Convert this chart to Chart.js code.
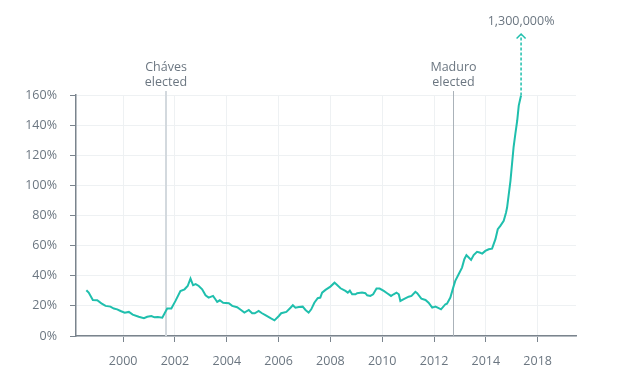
<!DOCTYPE html>
<html>
<head>
<meta charset="utf-8">
<script src="https://cdn.jsdelivr.net/npm/chart.js@4/dist/chart.umd.min.js"></script>
<style>
  html, body { margin: 0; padding: 0; background: #fff; }
  #wrap { width: 627px; height: 376px; }
</style>
</head>
<body>
<div id="wrap"><canvas id="inflationChart" width="627" height="376"></canvas></div>
<script>
// --- data ---
const years = [
  1998.58, 1998.67, 1998.83, 1999.00, 1999.16, 1999.32, 1999.51, 1999.64, 1999.77, 1999.90,
  2000.06, 2000.22, 2000.37, 2000.60, 2000.80, 2000.93, 2001.09, 2001.21, 2001.34, 2001.51,
  2001.70, 2001.86, 2002.02, 2002.21, 2002.37, 2002.49, 2002.60, 2002.70, 2002.80, 2002.92,
  2003.05, 2003.18, 2003.30, 2003.47, 2003.56, 2003.63, 2003.73, 2003.86, 2004.08, 2004.21,
  2004.40, 2004.55, 2004.68, 2004.85, 2004.98, 2005.08, 2005.23, 2005.36, 2005.49, 2005.69,
  2005.84, 2006.01, 2006.10, 2006.30, 2006.46, 2006.55, 2006.65, 2006.78, 2006.93, 2007.04,
  2007.16, 2007.26, 2007.38, 2007.51, 2007.61, 2007.68, 2007.81, 2008.00, 2008.16, 2008.23,
  2008.39, 2008.58, 2008.67, 2008.75, 2008.84, 2008.97, 2009.03, 2009.22, 2009.35, 2009.42,
  2009.54, 2009.65, 2009.78, 2009.90, 2010.06, 2010.19, 2010.34, 2010.44, 2010.55, 2010.64,
  2010.70, 2010.87, 2011.02, 2011.13, 2011.28, 2011.35, 2011.51, 2011.67, 2011.79, 2011.93,
  2012.05, 2012.14, 2012.27, 2012.44, 2012.50, 2012.63, 2012.74, 2012.82, 2012.95, 2013.08,
  2013.17, 2013.25, 2013.34, 2013.43, 2013.53, 2013.66, 2013.76, 2013.86, 2013.98, 2014.11,
  2014.24, 2014.37, 2014.46, 2014.56, 2014.69, 2014.78, 2014.82, 2014.95, 2015.07, 2015.14,
  2015.21, 2015.27, 2015.34, 2015.36
];
const inflation = [
  30.4, 28.8, 23.9, 23.7, 21.7, 20.0, 19.5, 18.2, 17.7, 16.6,
  15.5, 16.0, 14.2, 12.8, 11.8, 12.8, 13.3, 12.4, 12.6, 12.2,
  18.2, 18.2, 23.3, 29.9, 31.0, 33.2, 38.1, 33.7, 34.4, 33.2,
  31.0, 27.0, 25.5, 26.6, 24.4, 22.6, 23.7, 22.1, 21.7, 20.0,
  19.1, 17.3, 15.5, 17.3, 15.1, 15.1, 16.6, 15.1, 13.8, 11.8,
  10.4, 13.3, 15.1, 16.0, 18.8, 20.4, 18.8, 19.3, 19.5, 17.3,
  15.5, 17.7, 22.1, 25.1, 25.5, 28.8, 30.6, 32.8, 35.4, 34.4,
  31.7, 29.9, 28.8, 30.1, 27.7, 27.7, 28.4, 28.8, 28.4, 27.0,
  26.6, 27.7, 31.5, 31.5, 29.9, 28.4, 26.6, 27.7, 28.8, 27.7,
  23.3, 24.8, 26.1, 26.6, 29.3, 28.4, 24.8, 23.9, 22.1, 18.8,
  19.5, 18.8, 17.7, 21.1, 21.5, 25.5, 32.1, 36.6, 41.0, 45.4,
  51.0, 53.7, 52.1, 50.5, 53.7, 55.9, 55.4, 54.7, 56.5, 57.6,
  58.0, 64.3, 70.9, 73.1, 76.5, 82.0, 85.3, 103.0, 125.2, 134.3,
  142.9, 153.0, 158.4, 159.6
];

const tickYears = [2000, 2002, 2004, 2006, 2008, 2010, 2012, 2014, 2016];
const tickLabels = ['2000', '2002', '2004', '2006', '2008', '2010', '2012', '2014', '2018'];

const events = [
  { x: 2001.67, lines: ['Cháves', 'elected'], color: '#d3d9de', width: 2 },
  { x: 2012.72, lines: ['Maduro', 'elected'], color: '#aab2b9', width: 1 }
];

const arrowTopValue = 200.5;
const arrowLabel = '1,300,000%';

const TEAL = '#1fbfad';
const TEXT = '#6b7681';
const FONT = "'Open Sans', sans-serif";

// --- plugin: event lines + labels, and the off-chart arrow ---
const annotations = {
  id: 'annotations',
  beforeDatasetsDraw(chart) {
    const { ctx, chartArea, scales } = chart;
    ctx.save();
    events.forEach(ev => {
      const px = Math.round(scales.x.getPixelForValue(ev.x)) + (ev.width === 1 ? 0.5 : 0);
      ctx.strokeStyle = ev.color;
      ctx.lineWidth = ev.width;
      ctx.beginPath();
      ctx.moveTo(px, chartArea.top - 4);
      ctx.lineTo(px, chartArea.bottom);
      ctx.stroke();
      ctx.fillStyle = TEXT;
      ctx.font = '12.5px ' + FONT;
      ctx.textAlign = 'center';
      ctx.textBaseline = 'middle';
      ctx.fillText(ev.lines[0], px, chartArea.top - 28);
      ctx.fillText(ev.lines[1], px, chartArea.top - 13);
    });
    ctx.restore();
  },
  afterDatasetsDraw(chart) {
    const { ctx, scales } = chart;
    const lastX = years[years.length - 1];
    const lastY = inflation[inflation.length - 1];
    const px = scales.x.getPixelForValue(lastX);
    const y0 = scales.y.getPixelForValue(lastY);
    const y1 = scales.y.getPixelForValue(arrowTopValue);
    ctx.save();
    ctx.strokeStyle = TEAL;
    ctx.lineWidth = 1.5;
    ctx.setLineDash([3, 2]);
    ctx.beginPath();
    ctx.moveTo(px, y0);
    ctx.lineTo(px, y1 + 1);
    ctx.stroke();
    ctx.setLineDash([]);
    ctx.beginPath();
    ctx.moveTo(px - 4.5, y1 + 4.5);
    ctx.lineTo(px, y1);
    ctx.lineTo(px + 4.5, y1 + 4.5);
    ctx.stroke();
    ctx.fillStyle = TEXT;
    ctx.font = '12.5px ' + FONT;
    ctx.textAlign = 'center';
    ctx.textBaseline = 'middle';
    ctx.fillText(arrowLabel, px, y1 - 13);
    ctx.restore();
  }
};

const points = years.map((x, i) => ({ x: x, y: inflation[i] }));

new Chart(document.getElementById('inflationChart'), {
  type: 'line',
  data: {
    datasets: [{
      label: 'Inflation',
      data: points,
      borderColor: TEAL,
      backgroundColor: 'transparent',
      borderWidth: 2,
      pointRadius: 0,
      tension: 0
    }]
  },
  options: {
    responsive: false,
    animation: false,
    layout: { padding: { top: 95, right: 51, left: 0, bottom: 0 } },
    plugins: {
      legend: { display: false },
      tooltip: { enabled: false }
    },
    scales: {
      x: {
        type: 'linear',
        min: 1998.18,
        max: 2017.48,
        afterFit: (scale) => { scale.height = 40; },
        afterBuildTicks: (scale) => { scale.ticks = tickYears.map(v => ({ value: v })); },
        grid: { color: '#eef1f3', tickColor: '#7a848d', tickLength: 6 },
        border: { color: '#7a848d', width: 1.5 },
        ticks: {
          color: TEXT,
          font: { family: FONT, size: 12.5 },
          padding: 12,
          maxRotation: 0,
          autoSkip: false,
          callback: (value) => tickLabels[tickYears.indexOf(value)]
        }
      },
      y: {
        min: 0,
        max: 160,
        afterFit: (scale) => { scale.width = 76; },
        grid: { color: '#eef1f3', tickColor: '#7a848d', tickLength: 6 },
        border: { color: '#7a848d', width: 1.5 },
        ticks: {
          stepSize: 20,
          color: TEXT,
          font: { family: FONT, size: 12.5 },
          padding: 13,
          callback: (value) => value + '%'
        }
      }
    }
  },
  plugins: [annotations]
});
</script>
</body>
</html>
